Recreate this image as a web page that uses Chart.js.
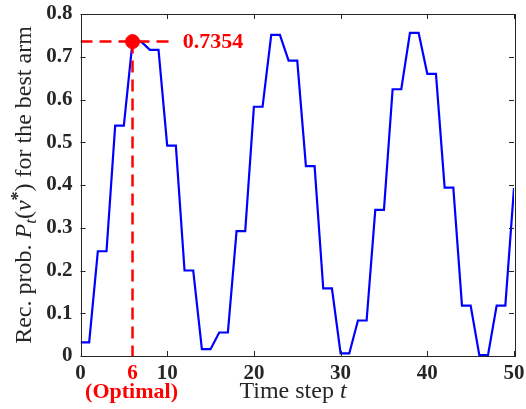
<!DOCTYPE html>
<html>
<head>
<meta charset="utf-8">
<script src="https://cdn.jsdelivr.net/npm/chart.js@4.4.1/dist/chart.umd.min.js"></script>
<style>
  body { margin: 0; background: #fff; }
  #wrap { width: 526px; height: 409px; }
</style>
</head>
<body>
<div id="wrap"><canvas id="lineChart"></canvas></div>
<script>
// time steps and recommendation probability of the best arm
const timeSteps = [0, 1, 2, 3, 4, 5, 6, 7, 8, 9, 10, 11, 12, 13, 14, 15, 16, 17, 18, 19, 20,
  21, 22, 23, 24, 25, 26, 27, 28, 29, 30, 31, 32, 33, 34, 35, 36, 37, 38, 39, 40,
  41, 42, 43, 44, 45, 46, 47, 48, 49, 50];
const probValues = [0.032, 0.032, 0.245, 0.245, 0.539, 0.539, 0.7354, 0.7354, 0.716, 0.716,
  0.492, 0.492, 0.200, 0.200, 0.016, 0.016, 0.055, 0.055, 0.292, 0.292,
  0.583, 0.583, 0.751, 0.751, 0.691, 0.691, 0.444, 0.444, 0.158, 0.158,
  0.006, 0.006, 0.083, 0.083, 0.342, 0.342, 0.624, 0.624, 0.756, 0.756,
  0.660, 0.660, 0.394, 0.394, 0.118, 0.118, 0.002, 0.002, 0.118, 0.118, 0.393];

const optimalStep = 6;
const optimalValue = 0.7354;
const guideEndX = 10.5;   // where the horizontal dashed guide stops

const xTickValues = [0, 6, 10, 20, 30, 40, 50];
const xMajorTicks = [0, 10, 20, 30, 40, 50];
const yTickValues = [0, 0.1, 0.2, 0.3, 0.4, 0.5, 0.6, 0.7, 0.8];

const FONT = 'Liberation Serif';
const AXIS_COLOR = '#262626';
Chart.defaults.font.family = FONT;

const seriesPoints = timeSteps.map((t, i) => ({ x: t, y: probValues[i] }));

// inward ticks, box, titles and annotation text
const decorPlugin = {
  id: 'decor',
  afterDraw(chart) {
    const { ctx, chartArea: a, scales } = chart;
    const xs = scales.x, ys = scales.y;
    ctx.save();
    ctx.strokeStyle = AXIS_COLOR;
    ctx.lineWidth = 1;
    ctx.beginPath();
    xMajorTicks.forEach(v => {
      const px = Math.round(xs.getPixelForValue(v)) + 0.5;
      ctx.moveTo(px, a.bottom); ctx.lineTo(px, a.bottom - 5);
      ctx.moveTo(px, a.top); ctx.lineTo(px, a.top + 5);
    });
    yTickValues.forEach(v => {
      const py = Math.round(ys.getPixelForValue(v)) + 0.5;
      ctx.moveTo(a.left, py); ctx.lineTo(a.left + 5, py);
      ctx.moveTo(a.right, py); ctx.lineTo(a.right - 5, py);
    });
    ctx.stroke();
    ctx.strokeRect(Math.round(a.left) + 0.5, Math.round(a.top) + 0.5,
      Math.round(a.right - a.left), Math.round(a.bottom - a.top));

    // value annotation
    ctx.fillStyle = '#ff0000';
    ctx.font = 'bold 22px ' + FONT;
    ctx.textAlign = 'left';
    ctx.textBaseline = 'middle';
    ctx.fillText(optimalValue.toFixed(4), xs.getPixelForValue(11.8), ys.getPixelForValue(optimalValue) + 1);

    // (Optimal) under the red tick
    ctx.font = 'bold 22px ' + FONT;
    ctx.textAlign = 'center';
    ctx.textBaseline = 'alphabetic';
    ctx.fillText('(Optimal)', xs.getPixelForValue(optimalStep) - 1, 398);

    // x title
    ctx.fillStyle = AXIS_COLOR;
    drawPieces(ctx, [
      { t: 'Time step ', f: '24px ' + FONT },
      { t: 't', f: 'italic 24px ' + FONT }
    ], 293, 398);

    // y title, rotated
    ctx.translate(31, 185);
    ctx.rotate(-Math.PI / 2);
    drawPieces(ctx, [
      { t: 'Rec. prob. ', f: '24px ' + FONT },
      { t: 'P', f: 'italic 24px ' + FONT },
      { t: 't', f: 'italic 17px ' + FONT, dy: 5 },
      { t: '(', f: '24px ' + FONT },
      { t: 'v', f: 'italic 24px ' + FONT },
      { t: '*', f: 'bold 18px ' + FONT, dy: -7 },
      { t: ')', f: '24px ' + FONT },
      { t: ' for the best arm', f: '24px ' + FONT }
    ], 0, 0);
    ctx.restore();
  }
};

function drawPieces(ctx, pieces, cx, y) {
  ctx.textAlign = 'left';
  ctx.textBaseline = 'alphabetic';
  let total = 0;
  pieces.forEach(p => { ctx.font = p.f; p.w = ctx.measureText(p.t).width; total += p.w; });
  let x = cx - total / 2;
  pieces.forEach(p => {
    ctx.font = p.f;
    ctx.fillText(p.t, x, y + (p.dy || 0));
    x += p.w;
  });
}

const config = {
  type: 'line',
  data: {
    datasets: [
      {
        label: 'Rec. prob.',
        data: seriesPoints,
        borderColor: '#0000ff',
        borderWidth: 2.2,
        pointRadius: 0,
        tension: 0,
        order: 3
      },
      {
        label: 'h-guide',
        data: [{ x: 0, y: optimalValue }, { x: guideEndX, y: optimalValue }],
        borderColor: '#ff0000',
        borderWidth: 2.5,
        borderDash: [12, 7],
        pointRadius: 0,
        order: 2
      },
      {
        label: 'v-guide',
        data: [{ x: optimalStep, y: optimalValue }, { x: optimalStep, y: 0 }],
        borderColor: '#ff0000',
        borderWidth: 2.5,
        borderDash: [12, 7],
        pointRadius: 0,
        order: 2
      },
      {
        label: 'optimal',
        data: [{ x: optimalStep, y: optimalValue }],
        showLine: false,
        pointRadius: 7,
        pointBackgroundColor: '#ff0000',
        pointBorderColor: '#ff0000',
        order: 1
      }
    ]
  },
  options: {
    responsive: true,
    maintainAspectRatio: false,
    animation: false,
    layout: { padding: { top: 14, right: 12, left: 0, bottom: 0 } },
    plugins: {
      legend: { display: false },
      tooltip: { enabled: false }
    },
    scales: {
      x: {
        type: 'linear',
        min: 0,
        max: 50,
        grid: { display: false, drawTicks: false },
        border: { display: false },
        afterBuildTicks: scale => { scale.ticks = xTickValues.map(v => ({ value: v })); },
        afterFit: scale => {
          scale.height = 53;
          scale.paddingLeft = 0;
          scale.paddingRight = 0;
        },
        ticks: {
          autoSkip: false,
          maxRotation: 0,
          padding: 5,
          font: { size: 21, weight: 'bold' },
          color: c => (c.tick.value === optimalStep ? '#ff0000' : AXIS_COLOR),
          callback: v => String(v)
        }
      },
      y: {
        min: 0,
        max: 0.8,
        grid: { display: false, drawTicks: false },
        border: { display: false },
        afterBuildTicks: scale => { scale.ticks = yTickValues.map(v => ({ value: v })); },
        afterFit: scale => {
          scale.width = 80.5;
          scale.paddingTop = 0;
          scale.paddingBottom = 0;
        },
        ticks: {
          padding: 8,
          font: { size: 21, weight: 'bold' },
          color: AXIS_COLOR,
          callback: v => (v === 0 ? '0' : v.toFixed(1))
        }
      }
    }
  },
  plugins: [decorPlugin]
};

const ctx = document.getElementById('lineChart').getContext('2d');
const chartInstance = new Chart(ctx, config);
</script>
</body>
</html>
